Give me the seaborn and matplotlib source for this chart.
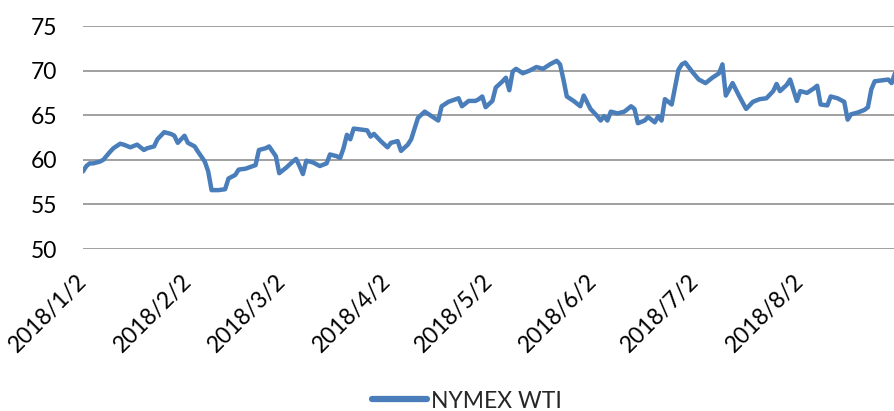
import matplotlib
matplotlib.use("Agg")
import pandas as pd
import seaborn as sns
import matplotlib.pyplot as plt
from matplotlib.transforms import ScaledTranslation

# NYMEX WTI, values
dates = [
    "2018-01-02", "2018-01-03", "2018-01-04", "2018-01-05", "2018-01-07", "2018-01-08",
    "2018-01-10", "2018-01-11", "2018-01-13", "2018-01-14", "2018-01-16", "2018-01-18",
    "2018-01-20", "2018-01-21", "2018-01-23", "2018-01-24", "2018-01-26", "2018-01-28",
    "2018-01-29", "2018-01-30", "2018-02-01", "2018-02-02", "2018-02-04", "2018-02-05",
    "2018-02-07", "2018-02-08", "2018-02-09", "2018-02-11", "2018-02-13", "2018-02-14",
    "2018-02-16", "2018-02-17", "2018-02-19", "2018-02-22", "2018-02-23", "2018-02-25",
    "2018-02-26", "2018-02-28", "2018-03-01", "2018-03-03", "2018-03-05", "2018-03-06",
    "2018-03-07", "2018-03-08", "2018-03-09", "2018-03-11", "2018-03-13", "2018-03-15",
    "2018-03-16", "2018-03-18", "2018-03-19", "2018-03-20", "2018-03-21", "2018-03-22",
    "2018-03-23", "2018-03-25", "2018-03-27", "2018-03-28", "2018-03-29", "2018-03-31",
    "2018-04-02", "2018-04-03", "2018-04-05", "2018-04-06", "2018-04-08", "2018-04-09",
    "2018-04-11", "2018-04-13", "2018-04-15", "2018-04-17", "2018-04-18", "2018-04-20",
    "2018-04-23", "2018-04-24", "2018-04-26", "2018-04-28", "2018-04-29", "2018-04-30",
    "2018-05-01", "2018-05-03", "2018-05-04", "2018-05-06", "2018-05-07", "2018-05-08",
    "2018-05-09", "2018-05-10", "2018-05-12", "2018-05-14", "2018-05-16", "2018-05-18",
    "2018-05-20", "2018-05-22", "2018-05-23", "2018-05-24", "2018-05-25", "2018-05-27",
    "2018-05-29", "2018-05-30", "2018-06-01", "2018-06-03", "2018-06-04", "2018-06-05",
    "2018-06-06", "2018-06-07", "2018-06-09", "2018-06-11", "2018-06-13", "2018-06-14",
    "2018-06-15", "2018-06-17", "2018-06-18", "2018-06-20", "2018-06-21", "2018-06-22",
    "2018-06-23", "2018-06-24", "2018-06-25", "2018-06-27", "2018-06-28", "2018-06-29",
    "2018-07-01", "2018-07-03", "2018-07-05", "2018-07-07", "2018-07-09", "2018-07-10",
    "2018-07-11", "2018-07-13", "2018-07-15", "2018-07-17", "2018-07-19", "2018-07-21",
    "2018-07-23", "2018-07-25", "2018-07-26", "2018-07-27", "2018-07-29", "2018-07-30",
    "2018-08-01", "2018-08-02", "2018-08-04", "2018-08-06", "2018-08-07", "2018-08-08",
    "2018-08-10", "2018-08-11", "2018-08-13", "2018-08-15", "2018-08-16", "2018-08-17",
    "2018-08-19", "2018-08-21", "2018-08-22", "2018-08-23", "2018-08-24", "2018-08-26",
    "2018-08-28", "2018-08-29", "2018-08-30",
]
wti = [
    58.7, 59.3, 59.6, 59.6, 59.8, 60.0,
    60.9, 61.3, 61.8, 61.7, 61.4, 61.7,
    61.1, 61.3, 61.5, 62.3, 63.1, 62.9,
    62.7, 61.9, 62.7, 61.9, 61.5, 60.9,
    59.8, 58.7, 56.6, 56.6, 56.7, 57.9,
    58.3, 58.9, 59.0, 59.4, 61.1, 61.3,
    61.5, 60.4, 58.5, 59.1, 59.8, 60.1,
    59.3, 58.4, 59.9, 59.7, 59.3, 59.6,
    60.6, 60.4, 60.2, 61.3, 62.8, 62.3,
    63.5, 63.4, 63.3, 62.6, 62.9, 62.1,
    61.4, 61.9, 62.1, 61.0, 61.7, 62.3,
    64.7, 65.4, 64.9, 64.4, 66.0, 66.5,
    66.9, 66.0, 66.6, 66.6, 66.8, 67.1,
    65.9, 66.6, 68.1, 68.8, 69.2, 67.8,
    69.9, 70.2, 69.7, 70.0, 70.4, 70.2,
    70.7, 71.1, 70.7, 69.0, 67.1, 66.6,
    66.0, 67.2, 65.7, 64.9, 64.4, 64.9,
    64.4, 65.4, 65.2, 65.4, 66.0, 65.7,
    64.1, 64.4, 64.8, 64.2, 64.9, 64.4,
    66.8, 66.5, 66.2, 70.1, 70.7, 70.9,
    69.9, 69.0, 68.6, 69.2, 69.7, 70.7,
    67.2, 68.6, 67.1, 65.7, 66.5, 66.8,
    66.9, 67.7, 68.5, 67.7, 68.4, 69.0,
    66.6, 67.7, 67.5, 68.0, 68.3, 66.2,
    66.1, 67.1, 66.9, 66.5, 64.5, 65.1,
    65.3, 65.6, 65.9, 67.9, 68.8, 68.9,
    69.0, 68.6, 69.7,
]
tick_dates = ["2018-01-02", "2018-02-02", "2018-03-02", "2018-04-02",
              "2018-05-02", "2018-06-02", "2018-07-02", "2018-08-02"]
tick_labels = ["2018/1/2", "2018/2/2", "2018/3/2", "2018/4/2",
               "2018/5/2", "2018/6/2", "2018/7/2", "2018/8/2"]

df = pd.DataFrame({"date": pd.to_datetime(dates), "price": wti})

sns.set_style("white")
plt.rcParams['font.family'] = ['Lato', 'DejaVu Sans']

fig = plt.figure(figsize=(8.95, 4.11), dpi=100)
ax = fig.add_axes([83/895, 1 - 249/411, 812/895, 223/411])

sns.lineplot(data=df, x="date", y="price", ax=ax, color="#4A7EBB",
             linewidth=3.2, label="NYMEX WTI")

ax.set_ylim(50, 75)
ax.set_yticks(range(50, 80, 5))
ax.set_xlim(pd.Timestamp("2018-01-02"), pd.Timestamp("2018-08-30"))
ax.set_xticks(pd.to_datetime(tick_dates))
ax.set_xticklabels(tick_labels, rotation=45, ha="right", va="center",
                   rotation_mode="anchor")
# nudge the rotated labels a little to the right, like the original
shift = ScaledTranslation(8/100, 0, fig.dpi_scale_trans)
for lab in ax.get_xticklabels():
    lab.set_transform(lab.get_transform() + shift)

ax.grid(axis="y", color="#a0a0a0", linewidth=1.4)
ax.grid(axis="x", visible=False)
for s in ax.spines.values():
    s.set_visible(False)
ax.tick_params(axis="both", length=0, labelsize=16.5, colors="black")
ax.tick_params(axis="y", pad=18.5)
ax.tick_params(axis="x", pad=21)
ax.set_xlabel("")
ax.set_ylabel("")

leg = ax.legend(loc="center", bbox_to_anchor=(467/895, 10/411),
                bbox_transform=fig.transFigure, frameon=False, fontsize=16.5,
                handlelength=2.4, handletextpad=0.2)
for h in leg.get_lines():
    h.set_linewidth(4.5)
    h.set_solid_capstyle("round")

fig.savefig("out.png", dpi=100)
